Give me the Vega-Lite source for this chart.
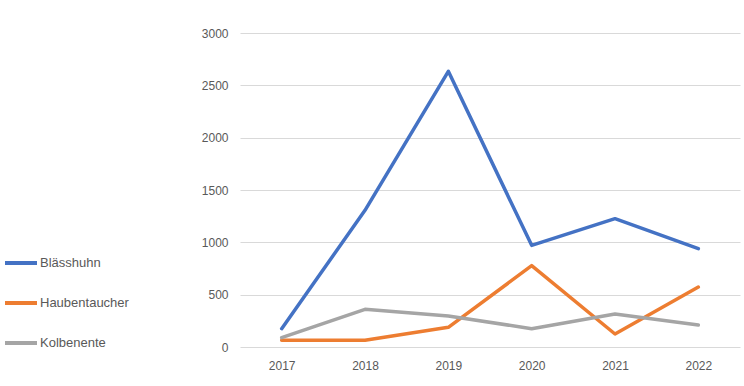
{
  "$schema": "https://vega.github.io/schema/vega-lite/v6.json",
  "width": 500,
  "height": 314,
  "autosize": {"type": "none"},
  "padding": {"left": 240, "top": 33, "right": 4, "bottom": 39},
  "background": "white",
  "config": {
    "view": {"stroke": null},
    "font": "Liberation Sans",
    "axis": {"labelFont": "Liberation Sans", "labelFontSize": 12, "labelColor": "#595959"},
    "legend": {"labelFont": "Liberation Sans", "labelFontSize": 13, "labelColor": "#595959"}
  },
  "data": {
    "values": [
      {"Jahr": "2017", "Art": "Blässhuhn", "Anzahl": 175},
      {"Jahr": "2018", "Art": "Blässhuhn", "Anzahl": 1306},
      {"Jahr": "2019", "Art": "Blässhuhn", "Anzahl": 2634},
      {"Jahr": "2020", "Art": "Blässhuhn", "Anzahl": 971},
      {"Jahr": "2021", "Art": "Blässhuhn", "Anzahl": 1226},
      {"Jahr": "2022", "Art": "Blässhuhn", "Anzahl": 939},
      {"Jahr": "2017", "Art": "Haubentaucher", "Anzahl": 64},
      {"Jahr": "2018", "Art": "Haubentaucher", "Anzahl": 64},
      {"Jahr": "2019", "Art": "Haubentaucher", "Anzahl": 188},
      {"Jahr": "2020", "Art": "Haubentaucher", "Anzahl": 777},
      {"Jahr": "2021", "Art": "Haubentaucher", "Anzahl": 124},
      {"Jahr": "2022", "Art": "Haubentaucher", "Anzahl": 573},
      {"Jahr": "2017", "Art": "Kolbenente", "Anzahl": 89},
      {"Jahr": "2018", "Art": "Kolbenente", "Anzahl": 360},
      {"Jahr": "2019", "Art": "Kolbenente", "Anzahl": 296},
      {"Jahr": "2020", "Art": "Kolbenente", "Anzahl": 175},
      {"Jahr": "2021", "Art": "Kolbenente", "Anzahl": 315},
      {"Jahr": "2022", "Art": "Kolbenente", "Anzahl": 210}
    ]
  },
  "mark": {"type": "line", "strokeWidth": 3.5, "strokeJoin": "round", "strokeCap": "round"},
  "encoding": {
    "x": {
      "field": "Jahr", "type": "ordinal",
      "scale": {"type": "point", "padding": 0.5},
      "axis": {"title": null, "labelAngle": 0, "domain": false, "ticks": false, "grid": false, "labelPadding": 13}
    },
    "y": {
      "field": "Anzahl", "type": "quantitative",
      "scale": {"domain": [0, 3000], "nice": false},
      "axis": {"title": null, "format": "d", "values": [0, 500, 1000, 1500, 2000, 2500, 3000], "domain": false, "ticks": false, "gridColor": "#D9D9D9", "gridWidth": 1, "labelPadding": 12}
    },
    "color": {
      "field": "Art", "type": "nominal",
      "scale": {"domain": ["Blässhuhn", "Haubentaucher", "Kolbenente"], "range": ["#4472C4", "#ED7D31", "#A5A5A5"]},
      "legend": {
        "title": null,
        "orient": "none",
        "legendX": -237,
        "legendY": 212,
        "symbolType": "stroke",
        "symbolSize": 1024,
        "symbolStrokeWidth": 4,
        "labelOffset": 1,
        "rowPadding": 14
      }
    }
  }
}
